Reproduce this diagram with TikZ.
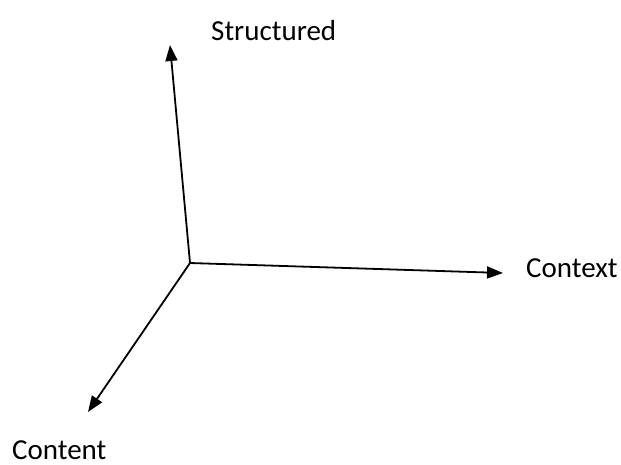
\documentclass[tikz,border=0pt]{standalone}
\usepackage{fontspec}
\setmainfont{Carlito}
\usetikzlibrary{arrows.meta}
\begin{document}
\begin{tikzpicture}[x=1pt,y=-1pt,
  axis/.style={line width=1.8pt,-{Triangle[length=16pt,width=12pt]}},
  lab/.style={anchor=base west,inner sep=0pt,font=\fontsize{29}{33}\selectfont}]
\useasboundingbox (0,0) rectangle (621,464);
\coordinate (o) at (190,263);
\coordinate (s) at (170,45);
\coordinate (c) at (503,273);
\coordinate (t) at (88,412);
\draw[axis] (o) -- (s);
\draw[axis] (o) -- (c);
\draw[axis] (o) -- (t);
\node[lab] (ls) at (211,40) {Structured};
\node[lab] (lc) at (526,277) {Context};
\node[lab] (lt) at (12,459) {Content};
\end{tikzpicture}
\end{document}
